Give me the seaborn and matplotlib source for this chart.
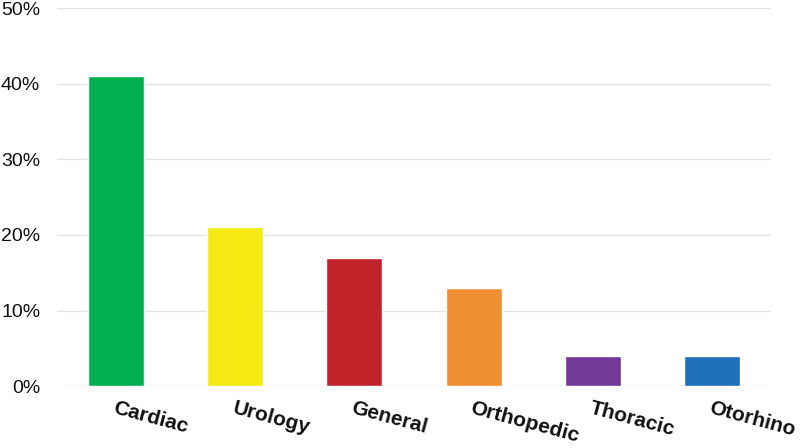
import matplotlib
matplotlib.use("Agg")
import matplotlib.pyplot as plt
import seaborn as sns
import pandas as pd
from matplotlib.ticker import PercentFormatter

# Share of cases by surgery type
categories = ["Cardiac", "Urology", "General", "Orthopedic", "Thoracic", "Otorhino"]
shares = [0.41, 0.21, 0.17, 0.13, 0.04, 0.04]
colors = ["#00b050", "#f5ea14", "#c0232a", "#ee8f33", "#703a96", "#1f6fbb"]

df = pd.DataFrame({"category": categories, "share": shares})

sns.set_theme(style="white")
plt.rcParams["font.family"] = ["Liberation Sans", "DejaVu Sans"]

fig = plt.figure(figsize=(8, 4.48), dpi=100)
ax = fig.add_axes([0.071, 0.138, 0.893, 0.844])

sns.barplot(data=df, x="category", y="share", hue="category",
            palette=colors, width=0.47, legend=False, ax=ax, saturation=1)

ax.set_ylim(0, 0.5)
ax.set_yticks([0, 0.1, 0.2, 0.3, 0.4, 0.5])
ax.yaxis.set_major_formatter(PercentFormatter(1.0, decimals=0))
ax.grid(axis="y", color="#e3e3e3", linewidth=1)
ax.set_axisbelow(True)
for s in ax.spines.values():
    s.set_visible(False)
ax.tick_params(axis="y", length=0, pad=12, labelsize=14, colors="#111111")
ax.tick_params(axis="x", length=0, pad=9)
ax.set_xlabel("")
ax.set_ylabel("")

for lab in ax.get_xticklabels():
    lab.set_rotation(-15)
    lab.set_ha("left")
    lab.set_va("top")
    lab.set_rotation_mode("anchor")
    lab.set_fontweight("bold")
    lab.set_fontsize(15)
    lab.set_color("#111111")

fig.savefig("out.png", dpi=100)
